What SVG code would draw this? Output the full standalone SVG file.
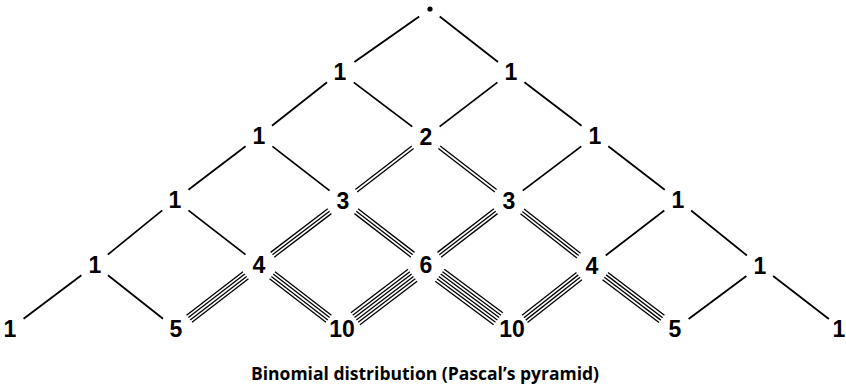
<svg xmlns="http://www.w3.org/2000/svg" xmlns:xlink="http://www.w3.org/1999/xlink" width="846" height="392" viewBox="0 0 846 392">
<style>
.n{font-family:"Liberation Sans",Arial,sans-serif;font-weight:bold;font-size:23px;fill:#000;text-anchor:middle}
.cap{font-family:"Open Sans","Liberation Sans",sans-serif;font-weight:bold;font-size:17.5px;fill:#000;text-anchor:middle}
.s1 line{stroke:#000;stroke-width:1.8}
.sm line{stroke:#000;stroke-width:1.3}
</style>
<defs>
<g id="t1" class="s1"><line x1="0.12" y1="0" x2="0.84" y2="0"/></g>
<g id="b1" class="s1"><line x1="0.16" y1="0" x2="0.84" y2="0"/></g>
<g id="b2" class="sm"><line x1="0.16" y1="-1.5" x2="0.84" y2="-1.5"/><line x1="0.16" y1="1.5" x2="0.84" y2="1.5"/></g>
<g id="b3" class="sm"><line x1="0.16" y1="-3" x2="0.84" y2="-3"/><line x1="0.16" y1="0" x2="0.84" y2="0"/><line x1="0.16" y1="3" x2="0.84" y2="3"/></g>
<g id="b4" class="sm"><line x1="0.16" y1="-4.5" x2="0.84" y2="-4.5"/><line x1="0.16" y1="-1.5" x2="0.84" y2="-1.5"/><line x1="0.16" y1="1.5" x2="0.84" y2="1.5"/><line x1="0.16" y1="4.5" x2="0.84" y2="4.5"/></g>
<g id="b6" class="sm"><line x1="0.16" y1="-7.5" x2="0.84" y2="-7.5"/><line x1="0.16" y1="-4.5" x2="0.84" y2="-4.5"/><line x1="0.16" y1="-1.5" x2="0.84" y2="-1.5"/><line x1="0.16" y1="1.5" x2="0.84" y2="1.5"/><line x1="0.16" y1="4.5" x2="0.84" y2="4.5"/><line x1="0.16" y1="7.5" x2="0.84" y2="7.5"/></g>
</defs>
<g id="connectors">
<use xlink:href="#t1" transform="matrix(-90,63,0.606,0.795,430,9)"/>
<use xlink:href="#t1" transform="matrix(81,63,-0.606,0.795,430,9)"/>
<use xlink:href="#b1" transform="matrix(-81,64,0.606,0.795,340,72)"/>
<use xlink:href="#b1" transform="matrix(86,65,-0.606,0.795,340,72)"/>
<use xlink:href="#b1" transform="matrix(-85,65,0.606,0.795,511,72)"/>
<use xlink:href="#b1" transform="matrix(84,64,-0.606,0.795,511,72)"/>
<use xlink:href="#b1" transform="matrix(-84,64,0.606,0.795,259,136)"/>
<use xlink:href="#b1" transform="matrix(84,65,-0.606,0.795,259,136)"/>
<use xlink:href="#b2" transform="matrix(-83,64,0.606,0.795,426,137)"/>
<use xlink:href="#b2" transform="matrix(83,64,-0.606,0.795,426,137)"/>
<use xlink:href="#b1" transform="matrix(-86,65,0.606,0.795,595,136)"/>
<use xlink:href="#b1" transform="matrix(83,64,-0.606,0.795,595,136)"/>
<use xlink:href="#b1" transform="matrix(-80,65,0.606,0.795,175,200)"/>
<use xlink:href="#b1" transform="matrix(84,65,-0.606,0.795,175,200)"/>
<use xlink:href="#b3" transform="matrix(-84,64,0.606,0.795,343,201)"/>
<use xlink:href="#b3" transform="matrix(83,64,-0.606,0.795,343,201)"/>
<use xlink:href="#b3" transform="matrix(-83,64,0.606,0.795,509,201)"/>
<use xlink:href="#b3" transform="matrix(83,65,-0.606,0.795,509,201)"/>
<use xlink:href="#b1" transform="matrix(-86,66,0.606,0.795,678,200)"/>
<use xlink:href="#b1" transform="matrix(82,66,-0.606,0.795,678,200)"/>
<use xlink:href="#b1" transform="matrix(-85,64,0.606,0.795,95,265)"/>
<use xlink:href="#b1" transform="matrix(81,64,-0.606,0.795,95,265)"/>
<use xlink:href="#b4" transform="matrix(-83,64,0.606,0.795,259,265)"/>
<use xlink:href="#b4" transform="matrix(83,64,-0.606,0.795,259,265)"/>
<use xlink:href="#b6" transform="matrix(-84,64,0.606,0.795,426,265)"/>
<use xlink:href="#b6" transform="matrix(86,64,-0.606,0.795,426,265)"/>
<use xlink:href="#b4" transform="matrix(-80,63,0.606,0.795,592,266)"/>
<use xlink:href="#b4" transform="matrix(83,63,-0.606,0.795,592,266)"/>
<use xlink:href="#b1" transform="matrix(-85,63,0.606,0.795,760,266)"/>
<use xlink:href="#b1" transform="matrix(82,63,-0.606,0.795,760,266)"/>
</g>
<g id="apex"><circle cx="430" cy="9" r="2.6" fill="#000"/></g>
<g id="r1c0"><text class="n" x="340" y="80">1</text></g>
<g id="r1c1"><text class="n" x="511" y="80">1</text></g>
<g id="r2c0"><text class="n" x="259" y="144">1</text></g>
<g id="r2c1"><text class="n" x="426" y="145">2</text></g>
<g id="r2c2"><text class="n" x="595" y="144">1</text></g>
<g id="r3c0"><text class="n" x="175" y="208">1</text></g>
<g id="r3c1"><text class="n" x="343" y="209">3</text></g>
<g id="r3c2"><text class="n" x="509" y="209">3</text></g>
<g id="r3c3"><text class="n" x="678" y="208">1</text></g>
<g id="r4c0"><text class="n" x="95" y="273">1</text></g>
<g id="r4c1"><text class="n" x="259" y="273">4</text></g>
<g id="r4c2"><text class="n" x="426" y="273">6</text></g>
<g id="r4c3"><text class="n" x="592" y="274">4</text></g>
<g id="r4c4"><text class="n" x="760" y="274">1</text></g>
<g id="r5c0"><text class="n" x="10" y="337">1</text></g>
<g id="r5c1"><text class="n" x="176" y="337">5</text></g>
<g id="r5c2"><text class="n" x="342" y="337">10</text></g>
<g id="r5c3"><text class="n" x="512" y="337">10</text></g>
<g id="r5c4"><text class="n" x="675" y="337">5</text></g>
<g id="r5c5"><text class="n" x="839" y="337">1</text></g>
<g id="caption"><text class="cap" x="425" y="380">Binomial distribution (Pascal’s pyramid)</text></g>
</svg>
